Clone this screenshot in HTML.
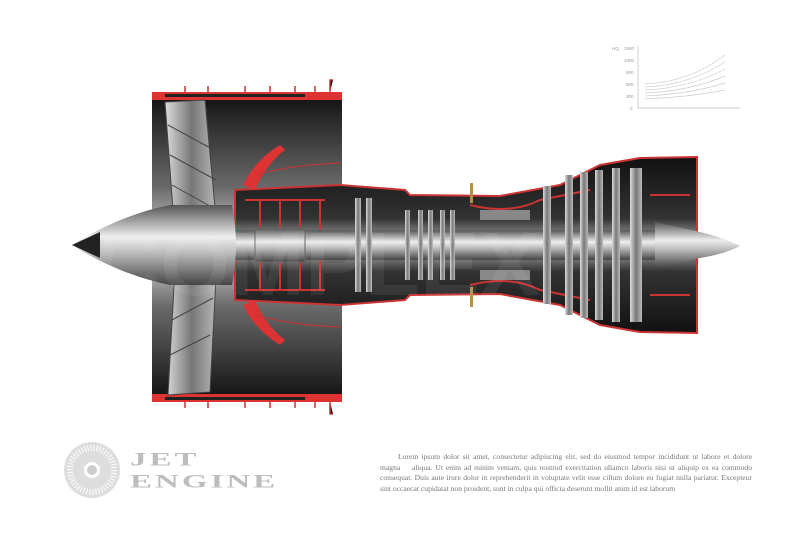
<!DOCTYPE html>
<html><head><meta charset="utf-8"><style>
body{margin:0;width:800px;height:534px;background:#fff;overflow:hidden;position:relative;font-family:"Liberation Serif",serif}
.p{position:absolute;left:380px;top:452px;width:372px;font-size:7.6px;line-height:10.5px;color:#777;text-align:justify;text-indent:18px}
.t{position:absolute;left:130px;font-family:"Liberation Serif",serif;font-weight:bold;color:#bdbdbd;font-size:22px;line-height:22px;letter-spacing:2px;transform:scale(1.5,0.85);transform-origin:0 0}
</style></head><body>
<svg width="800" height="534" style="position:absolute;left:0;top:0">
<defs>
<linearGradient id="cas" x1="0" y1="0" x2="0" y2="1">
<stop offset="0" stop-color="#151515"/><stop offset=".3" stop-color="#6a6a6a"/><stop offset=".5" stop-color="#e0e0e0"/><stop offset=".7" stop-color="#6a6a6a"/><stop offset="1" stop-color="#151515"/></linearGradient>
<linearGradient id="core" x1="0" y1="0" x2="0" y2="1">
<stop offset="0" stop-color="#111"/><stop offset=".35" stop-color="#333"/><stop offset=".5" stop-color="#bbb"/><stop offset=".65" stop-color="#333"/><stop offset="1" stop-color="#111"/></linearGradient>
<linearGradient id="sh" x1="0" y1="0" x2="0" y2="1">
<stop offset="0" stop-color="#555"/><stop offset=".4" stop-color="#eee"/><stop offset=".6" stop-color="#bbb"/><stop offset="1" stop-color="#444"/></linearGradient>
<linearGradient id="bl" x1="0" y1="0" x2="1" y2="0">
<stop offset="0" stop-color="#ddd"/><stop offset=".5" stop-color="#777"/><stop offset="1" stop-color="#bbb"/></linearGradient>
</defs>
<rect x="152" y="98" width="190" height="298" fill="url(#cas)"/>
<rect x="152" y="92" width="190" height="8" fill="#d33"/><rect x="165" y="94" width="140" height="3" fill="#222"/>
<rect x="152" y="394" width="190" height="8" fill="#d33"/><rect x="165" y="397" width="140" height="3" fill="#222"/>
<g stroke="#c33" stroke-width="1.5">
<path d="M185 92v-6M208 92v-6M245 92v-6M270 92v-6M295 92v-6M315 92v-6M330 92v-12h3M185 402v6M208 402v6M245 402v6M270 402v6M295 402v6M315 402v6M330 402v12h3"/></g>
<path d="M235 190 L340 185 L405 190 L410 195 L500 196 L560 185 L600 165 L640 158 L697 157 L697 333 L640 332 L600 325 L560 305 L500 294 L410 295 L405 300 L340 305 L235 300 Z" fill="url(#core)" stroke="#c33" stroke-width="2"/>
<path d="M243 185 Q255 160 280 145 L285 150 Q265 165 255 190 Z" fill="#d33"/>
<path d="M243 305 Q255 330 280 345 L285 340 Q265 325 255 300 Z" fill="#d33"/>
<path d="M255 175 Q290 165 340 163 M255 315 Q290 325 340 327" stroke="#c33" fill="none"/>
<g stroke="#c33" stroke-width="2" fill="none">
<path d="M245 200h80M245 290h80M260 200v40M280 200v35M300 200v30M320 200v30M260 290v-40M280 290v-35M300 290v-30M320 290v-30"/>
<path d="M470 205 Q510 215 540 200 L590 190 M470 285 Q510 275 540 290 L590 300"/>
<path d="M650 195 h40 M650 295 h40"/></g>
<rect x="235" y="230" width="430" height="30" fill="url(#sh)"/>
<rect x="255" y="228" width="50" height="34" fill="url(#sh)" stroke="#666"/>
<g fill="url(#bl)">
<rect x="355" y="198" width="6" height="94"/><rect x="366" y="198" width="6" height="94"/>
<rect x="405" y="210" width="5" height="70"/><rect x="418" y="210" width="5" height="70"/><rect x="428" y="210" width="5" height="70"/><rect x="440" y="210" width="5" height="70"/><rect x="450" y="210" width="5" height="70"/>
<rect x="543" y="186" width="8" height="118"/><rect x="565" y="175" width="8" height="140"/><rect x="580" y="172" width="8" height="146"/><rect x="595" y="170" width="8" height="150"/><rect x="612" y="168" width="8" height="154"/>
<rect x="630" y="168" width="12" height="154"/></g>
<rect x="480" y="210" width="50" height="10" fill="#888"/><rect x="480" y="270" width="50" height="10" fill="#888"/>
<rect x="470" y="183" width="3" height="20" fill="#b89040"/><rect x="470" y="287" width="3" height="20" fill="#b89040"/>
<path d="M655 222 L700 232 Q725 238 740 246 Q725 254 700 258 L655 268 Z" fill="url(#sh)"/>
<path d="M165 102 L205 100 L218 240 L210 392 L168 395 L176 250 Z" fill="url(#bl)" stroke="#444"/>
<g stroke="#444" fill="none"><path d="M168 125 L214 150 M170 155 L216 180 M172 185 L217 210 M174 285 L216 262 M172 320 L213 298 M170 355 L210 335"/></g>
<path d="M72 245 Q120 215 170 205 L232 205 Q240 245 232 285 L170 285 Q120 275 72 245 Z" fill="url(#sh)"/>
<path d="M72 245 L100 232 L100 258 Z" fill="#222"/>
<text x="95" y="295" font-family="Liberation Sans" font-weight="bold" font-size="90" fill="#fff" fill-opacity=".07">COMPLEX</text>
<g font-family="Liberation Sans" font-size="4.5" fill="#999">
<text x="612" y="50">HQ</text><text x="624" y="50">1500</text><text x="624" y="62">1000</text><text x="626" y="74">900</text><text x="626" y="86">600</text><text x="626" y="98">300</text><text x="630" y="110">0</text></g>
<path d="M638 46 V108 H740" stroke="#bbb" fill="none" stroke-width=".7"/>
<g stroke="#ccc" fill="none" stroke-width=".7">
<path d="M645 84 Q690 82 725 55M645 87 Q690 85 725 62M645 90 Q690 88 725 69M645 93 Q690 91 725 76M645 96 Q690 94 725 83M645 99 Q690 97 725 90"/></g>
<circle cx="92" cy="470" r="28" fill="#ddd"/><circle cx="92" cy="470" r="22" fill="none" stroke="#fff" stroke-width="6" stroke-dasharray="1 2"/><circle cx="92" cy="470" r="8" fill="#fff"/><circle cx="92" cy="470" r="5" fill="#ccc"/>
</svg>
<div class="t" style="top:450px">JET</div>
<div class="t" style="top:472px">ENGINE</div>
<div class="p">Lorem ipsum dolor sit amet, consectetur adipiscing elit, sed do eiusmod tempor incididunt ut labore et dolore magna &nbsp;&nbsp; aliqua. Ut enim ad minim veniam, quis nostrud exercitation ullamco laboris nisi ut aliquip ex ea commodo consequat. Duis aute irure dolor in reprehenderit in voluptate velit esse cillum dolore eu fugiat nulla pariatur. Excepteur sint occaecat cupidatat non proident, sunt in culpa qui officia deserunt mollit anim id est laborum</div>
</body></html>
